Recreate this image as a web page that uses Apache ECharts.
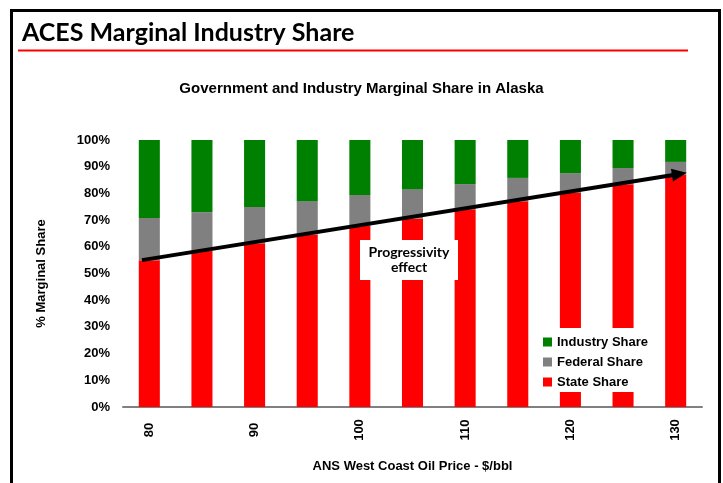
<!DOCTYPE html>
<html>
<head>
	<meta http-equiv="Content-Type" content="text/html; charset=UTF-8">
	<title>ACES Marginal Industry Share</title>
	<script src="https://cdn.jsdelivr.net/npm/echarts@6/dist/echarts.min.js"></script>
	<style>
		body { margin: 0; background: #fff; }
	</style>
</head>
<body>

	<div id="main" style="width: 723px;height:483px;"></div>

	<script>
		// oil price categories, $/bbl
		const prices = ['80', '85', '90', '95', '100', '105', '110', '115', '120', '125', '130'];

		// marginal shares in %
		const stateShare = [55.0, 58.4, 61.3, 64.6, 67.8, 70.6, 74.1, 77.1, 80.2, 83.4, 86.9];
		const federalShare = [15.8, 14.6, 13.6, 12.5, 11.6, 11.0, 9.4, 8.7, 7.4, 6.1, 4.9];
		const industryShare = [29.2, 27.0, 25.1, 22.9, 20.6, 18.4, 16.5, 14.2, 12.4, 10.5, 8.2];

		// progressivity arrow, [price, share]
		const arrowStart = [79.3, 55.0];
		const arrowEnd = [130.35, 87.3];

		const arial = '"Liberation Sans", Arial, sans-serif';

		var myChart = echarts.init(document.getElementById('main'));
		var option;

		option = {
		  animation: false,
		  title: [
		    {
		      text: 'ACES Marginal Industry Share',
		      left: 22,
		      top: 20,
		      padding: 0,
		      textStyle: { fontFamily: 'Lato', fontWeight: 'bold', fontSize: 25, color: '#000' }
		    },
		    {
		      text: 'Government and Industry Marginal Share in Alaska',
		      left: 'center',
		      top: 81,
		      padding: 0,
		      textStyle: { fontFamily: arial, fontWeight: 'bold', fontSize: 15, color: '#000' }
		    }
		  ],
		  graphic: [
		    {
		      type: 'rect',
		      z: 100,
		      shape: { x: 11.5, y: 10.5, width: 708, height: 520 },
		      style: { fill: 'none', stroke: '#000', lineWidth: 3 }
		    },
		    {
		      type: 'line',
		      z: 100,
		      shape: { x1: 18, y1: 50.5, x2: 688, y2: 50.5 },
		      style: { stroke: '#ff0000', lineWidth: 2 }
		    },
		    {
		      type: 'rect',
		      z: 100,
		      shape: { x: 360, y: 240, width: 98, height: 40 },
		      style: { fill: '#fff' }
		    },
		    {
		      type: 'text',
		      z: 101,
		      x: 409,
		      y: 260,
		      style: {
		        text: 'Progressivity\neffect',
		        fontFamily: 'Lato',
		        fontWeight: 'bold',
		        fontSize: 14,
		        lineHeight: 15,
		        fill: '#000',
		        align: 'center',
		        verticalAlign: 'middle'
		      }
		    }
		  ],
		  legend: {
		    data: ['Industry Share', 'Federal Share', 'State Share'],
		    orient: 'vertical',
		    left: 536,
		    top: 328,
		    padding: [7, 8, 3, 7],
		    backgroundColor: '#fff',
		    itemWidth: 9,
		    itemHeight: 9,
		    itemGap: 6,
		    icon: 'rect',
		    textStyle: { fontFamily: arial, fontWeight: 'bold', fontSize: 13, lineHeight: 14, color: '#000' }
		  },
		  grid: {
		    left: 123,
		    right: 21,
		    top: 140,
		    bottom: 76
		  },
		  xAxis: [
		    {
		      type: 'category',
		      data: prices,
		      name: 'ANS West Coast Oil Price - $/bbl',
		      nameLocation: 'middle',
		      nameGap: 53,
		      nameTextStyle: { fontFamily: arial, fontWeight: 'bold', fontSize: 13, color: '#000' },
		      axisLine: { lineStyle: { color: '#808080', width: 2 } },
		      axisTick: { interval: 0, length: 5, lineStyle: { color: '#808080', width: 1.5 } },
		      axisLabel: {
		        interval: 1,
		        rotate: 90,
		        align: 'center',
		        verticalAlign: 'middle',
		        margin: 23,
		        fontFamily: arial,
		        fontWeight: 'bold',
		        fontSize: 13,
		        color: '#000'
		      }
		    },
		    {
		      type: 'value',
		      min: 77.5,
		      max: 132.5,
		      show: false
		    }
		  ],
		  yAxis: {
		    type: 'value',
		    min: 0,
		    max: 100,
		    interval: 10,
		    name: '% Marginal Share',
		    nameLocation: 'middle',
		    nameGap: 75,
		    nameTextStyle: { fontFamily: arial, fontWeight: 'bold', fontSize: 13, color: '#000' },
		    axisLine: { show: false },
		    axisTick: { show: false },
		    splitLine: { show: false },
		    axisLabel: {
		      formatter: '{value}%',
		      margin: 13,
		      fontFamily: arial,
		      fontWeight: 'bold',
		      fontSize: 13,
		      color: '#000'
		    }
		  },
		  series: [
		    {
		      name: 'State Share',
		      type: 'bar',
		      stack: 'share',
		      barWidth: '40%',
		      data: stateShare,
		      itemStyle: { color: '#ff0000' }
		    },
		    {
		      name: 'Federal Share',
		      type: 'bar',
		      stack: 'share',
		      data: federalShare,
		      itemStyle: { color: '#808080' }
		    },
		    {
		      name: 'Industry Share',
		      type: 'bar',
		      stack: 'share',
		      data: industryShare,
		      itemStyle: { color: '#008000' }
		    },
		    {
		      name: 'arrow',
		      type: 'line',
		      xAxisIndex: 1,
		      data: [],
		      z: 5,
		      markLine: {
		        silent: true,
		        symbol: ['none', 'triangle'],
		        symbolSize: [13, 15],
		        label: { show: false },
		        lineStyle: { color: '#000', width: 4, type: 'solid' },
		        data: [[{ coord: arrowStart }, { coord: arrowEnd }]]
		      }
		    }
		  ]
		};

		option && myChart.setOption(option);
	</script>

</body>
</html>
